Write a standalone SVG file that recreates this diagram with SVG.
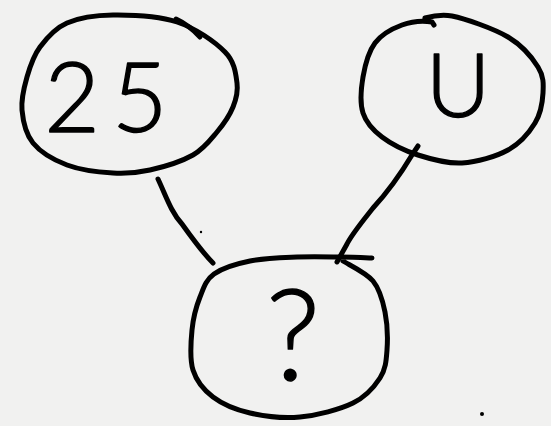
<svg xmlns="http://www.w3.org/2000/svg" width="551" height="426" viewBox="0 0 551 426">
<style>
.ink{fill:none;stroke:#000;stroke-width:5;stroke-linecap:round;stroke-linejoin:round}
.lbl{font-family:Lato,"Open Sans","Liberation Sans",sans-serif;font-weight:300;fill:#000;stroke:#000;stroke-width:1.4;stroke-linejoin:round;text-anchor:middle}
</style>
<rect width="551" height="426" fill="#f1f1f0"/>
<g id="connectors">
<path class="ink" d="M158,179 C166,196 171,212 182,224 C192,238 204,254 213,263"/>
<path class="ink" d="M418,146 L412,155 C400,175 385,195 373,208 C362,222 352,234 347,244 L337,262"/>
</g>
<g id="node-25">
<path class="ink" d="M113,15 C131.3,14.8 158.3,15.8 177,22 C195.7,28.2 215,41.8 225,52 C235,62.2 235.7,73.8 237,83 C238.3,92.2 236.3,98.8 233,107 C229.7,115.2 223.7,124 217,132 C210.3,140 204.2,148.7 193,155 C181.8,161.3 163.3,167 150,170 C136.7,173 126.8,173.8 113,173 C99.2,172.2 80.3,170 67,165 C53.7,160 40.5,152.2 33,143 C25.5,133.8 23,121 22,110 C21,99 24,87.5 27,77 C30,66.5 33.3,56 40,47 C46.7,38 54.8,28.3 67,23 C79.2,17.7 94.7,15.2 113,15 Z"/>
<path class="ink" d="M176,19 Q189,25 200,37"/>
<text class="lbl" x="112" y="132" font-size="96" letter-spacing="12">25</text>
</g>
<g id="node-U">
<path class="ink" d="M425,18 Q440,14 452,16 C464.7,18.5 493.7,28.5 508,37 C522.3,45.5 532.2,57.7 538,67 C543.8,76.3 543.5,83.7 543,93 C542.5,102.3 540.8,113.5 535,123 C529.2,132.5 520.2,143.3 508,150 C495.8,156.7 477,162.2 462,163 C446.7,163.8 431.3,159.3 418,155 C404.7,150.7 391.2,144 382,137 C372.8,130 366.2,123 363,113 C359.8,103 361,88.7 363,77 C365,65.3 368.5,51.7 375,43 C381.5,34.3 392.5,28.5 402,25 C411.5,21.5 423.7,20.5 432,22 L434,25"/>
<text class="lbl" x="458" y="117" font-size="89">U</text>
</g>
<g id="node-q">
<path class="ink" d="M343,261 C348,264.3 366,272.5 373,281 C380,289.5 382.7,300.5 385,312 C387.3,323.5 387.8,339 387,350 C386.2,361 385.7,369.2 380,378 C374.3,386.8 366.3,396.5 353,403 C339.7,409.5 317.2,415.3 300,417 C282.8,418.7 264.5,416.3 250,413 C235.5,409.7 222.5,404.2 213,397 C203.5,389.8 196.5,381.2 193,370 C189.5,358.8 190.8,342.2 192,330 C193.2,317.8 196.3,306.3 200,297 C203.7,287.7 205.7,280 214,274 C222.3,268 236.2,263.8 250,261 C263.8,258.2 282,257.7 297,257 C312,256.3 327.5,256.8 340,257 C352.5,257.2 366.7,257.8 372,258"/>
<text class="lbl" x="293" y="380" font-size="126">?</text>
</g>
<circle cx="201" cy="232" r="1.2" fill="#000"/>
<circle cx="482" cy="414" r="2" fill="#000"/>
</svg>
